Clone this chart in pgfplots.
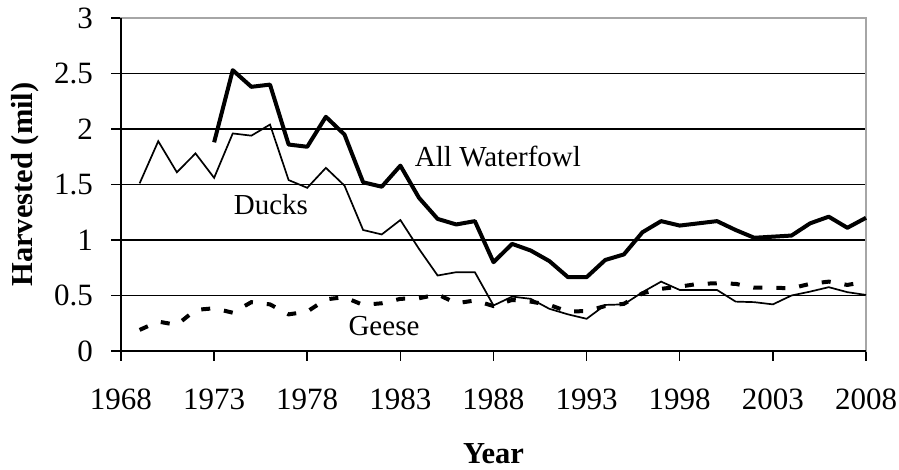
\documentclass[border=0pt]{standalone}
\usepackage{pgfplots}
\pgfplotsset{compat=1.18}
\usepackage{fontspec}
\setmainfont{Liberation Serif}
\begin{document}
\begin{tikzpicture}
\useasboundingbox (-60.5pt,-59.5pt) rectangle (389pt,175.5pt);
\begin{axis}[
  at={(0,0)}, anchor=south west,
  scale only axis, width=372.5pt, height=166.5pt,
  xmin=1968, xmax=2008, ymin=0, ymax=3,
  xtick={1968,1973,...,2008},
  ytick={0,0.5,...,3},
  /pgf/number format/assume math mode=true,
  xticklabel style={/pgf/number format/1000 sep={}, yshift=-10.5pt},
  yticklabel style={/pgf/number format/fixed, xshift=-5.5pt},
  tick label style={font=\fontsize{15.5}{18}\selectfont, text=black},
  label style={font=\fontsize{15.25}{18}\selectfont\bfseries},
  tick align=outside, major tick length=5pt,
  tick style={black, line width=0.75pt},
  xtick pos=bottom, ytick pos=left,
  ymajorgrids, grid style={black, line width=0.75pt},
  axis line style={gray!70, line width=0.75pt},
  xlabel={Year}, ylabel={Harvested (mil)},
  xlabel style={at={(axis description cs:0.5,0)}, anchor=center, yshift=-51.5pt},
  ylabel style={at={(axis description cs:0,0.5)}, anchor=center, rotate=0, yshift=48pt},
  clip=false,
]
% Ducks
\addplot[black, line width=0.85pt] coordinates {
(1969,1.51)(1970,1.89)(1971,1.61)(1972,1.78)(1973,1.56)(1974,1.96)(1975,1.94)(1976,2.04)
(1977,1.54)(1978,1.47)(1979,1.65)(1980,1.49)(1981,1.09)(1982,1.05)(1983,1.18)(1984,0.92)
(1985,0.68)(1986,0.71)(1987,0.71)(1988,0.41)(1989,0.49)(1990,0.47)(1991,0.38)(1992,0.33)
(1993,0.29)(1994,0.415)(1995,0.42)(1996,0.53)(1997,0.625)(1998,0.55)(1999,0.55)(2000,0.55)
(2001,0.445)(2002,0.44)(2003,0.42)(2004,0.50)(2005,0.535)(2006,0.575)(2007,0.53)(2008,0.505)
};
% All waterfowl
\addplot[black, line width=2pt, line join=round] coordinates {
(1973,1.88)(1974,2.53)(1975,2.38)(1976,2.40)(1977,1.86)(1978,1.84)(1979,2.11)(1980,1.95)
(1981,1.52)(1982,1.48)(1983,1.67)(1984,1.38)(1985,1.19)(1986,1.14)(1987,1.17)(1988,0.80)
(1989,0.965)(1990,0.905)(1991,0.81)(1992,0.665)(1993,0.665)(1994,0.82)(1995,0.87)(1996,1.07)
(1997,1.17)(1998,1.13)(1999,1.15)(2000,1.17)(2001,1.09)(2002,1.02)(2003,1.03)(2004,1.04)
(2005,1.15)(2006,1.21)(2007,1.11)(2008,1.20)
};
% Geese
\addplot[black, line width=2pt, dash pattern=on 4.5pt off 7pt] coordinates {
(1969,0.19)(1970,0.265)(1971,0.235)(1972,0.37)(1973,0.385)(1974,0.345)(1975,0.44)(1976,0.42)
(1977,0.33)(1978,0.355)(1979,0.465)(1980,0.485)(1981,0.415)(1982,0.43)(1983,0.47)(1984,0.475)
(1985,0.51)(1986,0.43)(1987,0.455)(1988,0.405)(1989,0.46)(1990,0.445)(1991,0.415)(1992,0.355)
(1993,0.36)(1994,0.405)(1995,0.425)(1996,0.52)(1997,0.56)(1998,0.58)(1999,0.605)(2000,0.61)
(2001,0.605)(2002,0.57)(2003,0.57)(2004,0.565)(2005,0.605)(2006,0.625)(2007,0.595)(2008,0.625)
};
\draw[black, line width=0.75pt] (rel axis cs:0,1) -- (rel axis cs:0,0) -- (rel axis cs:1,0);
\node[anchor=base, font=\fontsize{14.5}{17}\selectfont] at (axis cs:1988.24,1.66) {All Waterfowl};
\node[anchor=base, font=\fontsize{14.5}{17}\selectfont] at (axis cs:1976.05,1.234) {Ducks};
\node[anchor=base, font=\fontsize{14.5}{17}\selectfont] at (axis cs:1982.12,0.144) {Geese};
\end{axis}
\end{tikzpicture}
\end{document}
